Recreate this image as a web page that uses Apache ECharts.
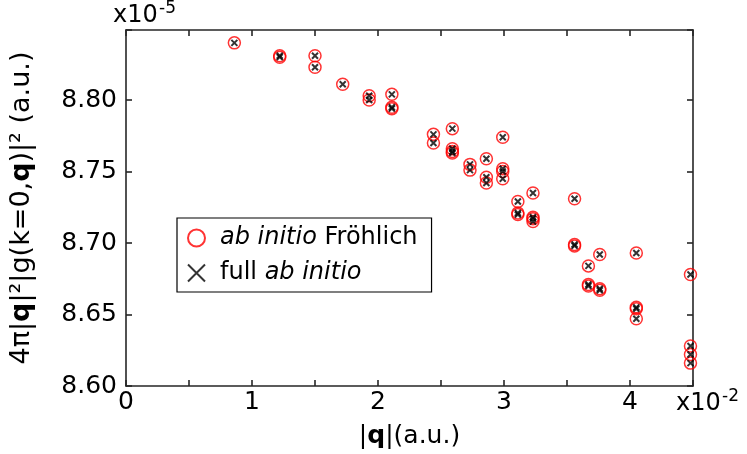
<!DOCTYPE html>
<html>
<head>
<meta charset="utf-8">
<script src="https://cdn.jsdelivr.net/npm/echarts@6/dist/echarts.min.js"></script>
<style>
html,body{margin:0;padding:0;background:#fff;}
#chart{width:747px;height:454px;}
</style>
</head>
<body>
<div id="chart"></div>
<script>
// |q| in units of 1e-2 a.u., values in units of 1e-5 a.u.
var qFrohlich = [0.86, 1.22,1.22, 1.50,1.50, 1.72, 1.93,1.93, 2.11,2.11,2.11, 2.44,2.44, 2.59,2.59,2.59,2.59, 2.73,2.73, 2.86,2.86,2.86, 2.99,2.99,2.99,2.99, 3.11,3.11,3.11, 3.23,3.23,3.23,3.23, 3.56,3.56,3.56, 3.67,3.67,3.67, 3.76,3.76,3.76, 4.05,4.05,4.05,4.05, 4.48,4.48,4.48,4.48];
var gFrohlich = [8.840, 8.831,8.830, 8.831,8.823, 8.811, 8.803,8.800, 8.804,8.795,8.794, 8.776,8.770, 8.780,8.766,8.764,8.763, 8.755,8.751, 8.759,8.746,8.742, 8.774,8.752,8.750,8.745, 8.729,8.721,8.720, 8.735,8.718,8.717,8.715, 8.731,8.699,8.698, 8.684,8.671,8.670, 8.692,8.668,8.667, 8.693,8.655,8.654,8.647, 8.678,8.628,8.622,8.616];
var qFull = [0.86, 1.22,1.22, 1.50,1.50, 1.72, 1.93,1.93, 2.11,2.11,2.11, 2.44,2.44, 2.59,2.59,2.59,2.59, 2.73,2.73, 2.86,2.86,2.86, 2.99,2.99,2.99,2.99, 3.11,3.11,3.11, 3.23,3.23,3.23,3.23, 3.56,3.56,3.56, 3.67,3.67,3.67, 3.76,3.76,3.76, 4.05,4.05,4.05,4.05, 4.48,4.48,4.48,4.48];
var gFull = [8.840, 8.831,8.830, 8.831,8.823, 8.811, 8.803,8.800, 8.804,8.795,8.794, 8.776,8.770, 8.780,8.766,8.764,8.763, 8.755,8.751, 8.759,8.746,8.742, 8.774,8.752,8.750,8.745, 8.729,8.721,8.720, 8.735,8.718,8.717,8.715, 8.731,8.699,8.698, 8.684,8.671,8.670, 8.692,8.668,8.667, 8.693,8.655,8.654,8.647, 8.678,8.628,8.622,8.616];
var xTicks = [0, 1, 2, 3, 4];
var yTicks = [8.60, 8.65, 8.70, 8.75, 8.80];
var seriesNames = ['frohlich', 'full'];

function pairs(xs, ys){ return xs.map(function(x,i){ return [x, ys[i]]; }); }

var FONT = 'DejaVu Sans';
var axisCol = '#262626';
var chart = echarts.init(document.getElementById('chart'), null, {renderer:'canvas'});
var commonX = {
  type:'value', min:0, max:4.5, interval:0.5,
  axisLine:{show:true, onZero:false, lineStyle:{color:axisCol, width:1.6}},
  axisTick:{show:true, inside:true, length:6, lineStyle:{color:axisCol, width:1.6}},
  splitLine:{show:false}
};
var commonY = {
  type:'value', min:8.60, max:8.849, interval:0.05,
  axisLine:{show:true, onZero:false, lineStyle:{color:axisCol, width:1.6}},
  axisTick:{show:true, inside:true, length:6, lineStyle:{color:axisCol, width:1.6}},
  splitLine:{show:false}
};
var option = {
  animation:false,
  backgroundColor:'#fff',
  grid:{left:112, right:54, top:30, bottom:65, containLabel:false},
  xAxis:[
    Object.assign({}, commonX, {
      position:'bottom',
      axisLabel:{show:true, fontFamily:FONT, fontSize:25, color:'#000', margin:4,
        formatter:function(v){ for (var i=0;i<xTicks.length;i++){ if (Math.abs(v-xTicks[i])<1e-6) return String(xTicks[i]); } return ''; }},
      name:'|{b|q}|(a.u.)', nameLocation:'middle', nameGap:38,
      nameTextStyle:{fontFamily:FONT, fontSize:25, color:'#000',
        rich:{b:{fontFamily:FONT, fontSize:25, fontWeight:'bold', color:'#000'}}}
    }),
    Object.assign({}, commonX, {position:'top', axisLabel:{show:false}})
  ],
  yAxis:[
    Object.assign({}, commonY, {
      position:'left',
      axisLabel:{show:true, fontFamily:FONT, fontSize:25, color:'#000', margin:9,
        formatter:function(v){ for (var i=0;i<yTicks.length;i++){ if (Math.abs(v-yTicks[i])<1e-6) return yTicks[i].toFixed(2); } return ''; }},
      name:'4π|{b|q}|²|g(k=0,{b|q})|² (a.u.)', nameLocation:'middle', nameGap:91, nameRotate:90,
      nameTextStyle:{fontFamily:FONT, fontSize:27, color:'#000',
        rich:{b:{fontFamily:FONT, fontSize:27, fontWeight:'bold', color:'#000'}}}
    }),
    Object.assign({}, commonY, {position:'right', axisLabel:{show:false}})
  ],
  legend:{
    show:true, orient:'vertical', left:177, top:218,
    padding:[6,14,5,10], itemGap:7, itemWidth:17, itemHeight:17,
    borderColor:'#000', borderWidth:1.2, backgroundColor:'#fff',
    data:seriesNames,
    formatter:function(n){ return n==='frohlich' ? '{g|}{i|ab initio} Fröhlich' : '{g|}full {i|ab initio}'; },
    textStyle:{fontFamily:FONT, fontSize:24, color:'#000', lineHeight:28,
      rich:{
        g:{width:10},
        i:{fontFamily:FONT, fontSize:24, fontStyle:'italic', color:'#000', lineHeight:28}
      }}
  },
  graphic:[
    {type:'text', left:113, top:4, style:{text:'x10', fontFamily:FONT, fontSize:24, fill:'#000'}},
    {type:'text', left:159, top:0, style:{text:'-5', fontFamily:FONT, fontSize:17, fill:'#000'}},
    {type:'text', left:676, top:392, style:{text:'x10', fontFamily:FONT, fontSize:24, fill:'#000'}},
    {type:'text', left:722, top:388, style:{text:'-2', fontFamily:FONT, fontSize:17, fill:'#000'}}
  ],
  series:[
    {name:'frohlich', type:'scatter', data:pairs(qFrohlich, gFrohlich),
      symbol:'circle', symbolSize:12, z:2,
      itemStyle:{color:'rgba(0,0,0,0)', borderColor:'#ff0000', borderWidth:1.5}},
    {name:'full', type:'scatter', data:pairs(qFull, gFull),
      symbol:'path://M0,0L10,10M10,0L0,10', symbolSize:6, z:3,
      itemStyle:{color:'rgba(0,0,0,0)', borderColor:'#000', borderWidth:2}}
  ]
};
chart.setOption(option);
</script>
</body>
</html>
